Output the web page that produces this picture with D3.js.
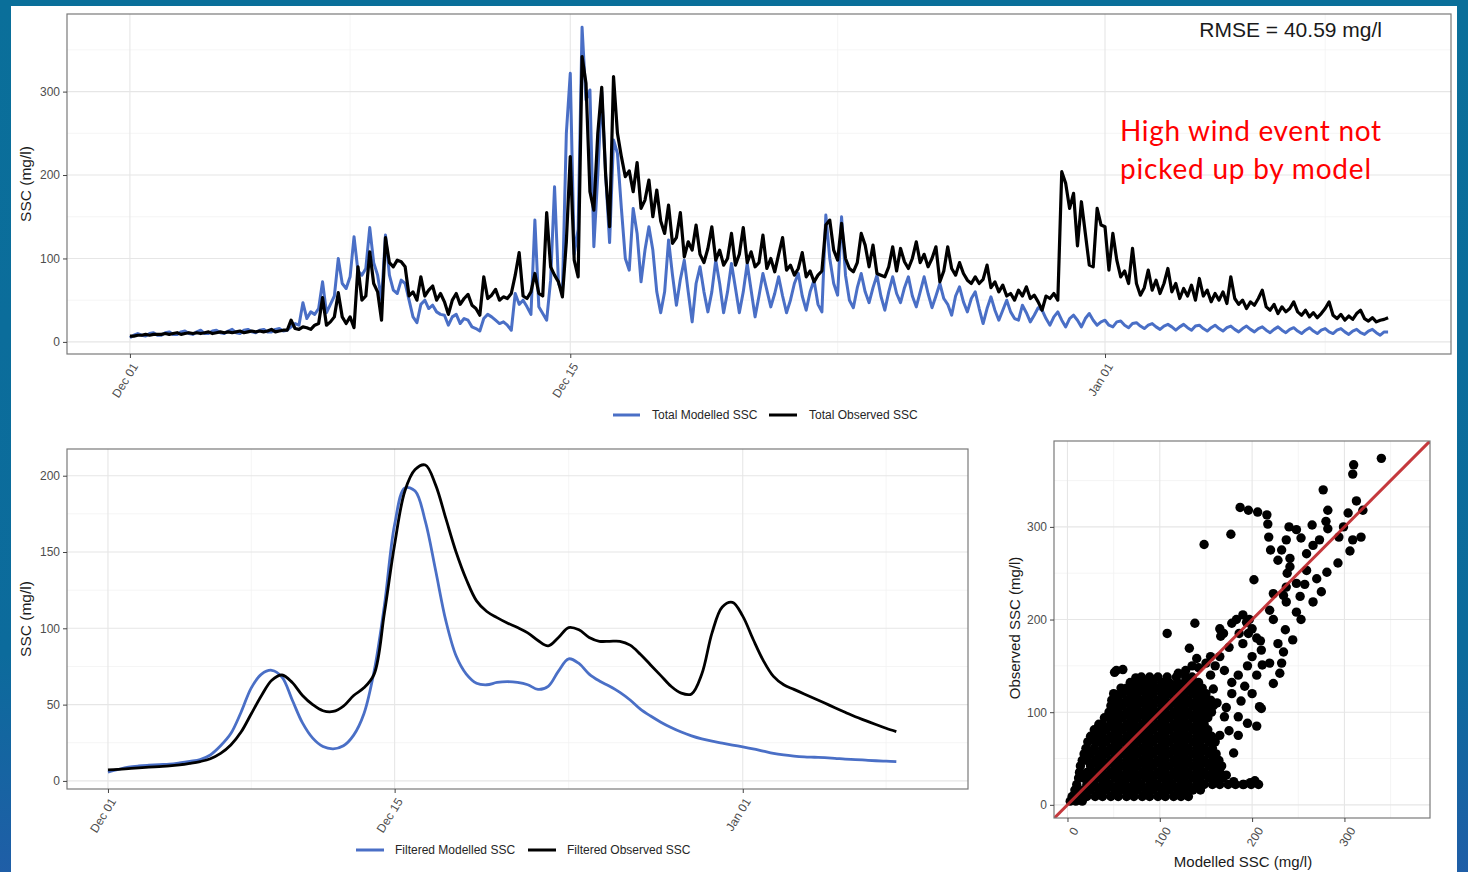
<!DOCTYPE html>
<html>
<head>
<meta charset="utf-8">
<script src="https://cdn.jsdelivr.net/npm/d3@7"></script>
<style>
  html, body { margin: 0; padding: 0; background: #0b6e99; }
  svg { display: block; }
</style>
</head>
<body>
<svg id="chart" width="1468" height="872"></svg>
<script>
// ---------------- data ----------------
// total SSC, one value every 3 hours from Dec 01 00:00 (one row per day)
const seriesStart = new Date(2019, 11, 1);
const totalStepHours = 3;

const totalModelled = [
  5, 8, 10, 8, 7, 10, 11, 8,
  8, 11, 12, 9, 9, 12, 13, 10,
  9, 12, 14, 10, 10, 13, 14, 11,
  10, 13, 15, 11, 10, 14, 15, 12,
  11, 14, 15, 12, 12, 15, 16, 13,
  14, 18, 22, 20, 47, 28, 36, 33,
  40, 72, 35, 45, 55, 100, 70, 64,
  78, 126, 85, 80, 88, 137, 95, 80,
  50, 128, 80, 62, 58, 74, 70, 50,
  30, 23, 45, 50, 40, 44, 36, 33,
  32, 20, 30, 33, 22, 28, 26, 18,
  16, 13, 28, 33, 30, 26, 22, 24,
  20, 14, 58, 45, 50, 42, 33, 146,
  42, 34, 26, 74, 186, 70, 60, 250,
  322, 105, 135, 377, 290, 302, 114, 200,
  300, 200, 119, 242, 226, 160, 100, 86,
  160, 130, 72, 110, 138, 110, 60, 35,
  60, 122, 80, 44, 75, 98, 60, 24,
  70, 90, 60, 36, 60, 98, 70, 35,
  60, 94, 65, 35, 60, 94, 62, 30,
  55, 82, 62, 42, 58, 78, 55, 35,
  50, 70, 82, 55, 38, 60, 74, 45,
  36, 152, 100, 70, 56, 150, 80, 50,
  41, 65, 82, 60, 47, 65, 80, 55,
  38, 60, 78, 58, 47, 65, 78, 55,
  42, 60, 78, 58, 41, 55, 70, 52,
  45, 32, 55, 66, 48, 36, 52, 60,
  40, 22, 40, 54, 38, 26, 38, 50,
  36, 28, 26, 44, 35, 24, 32, 41,
  38, 28, 20, 30, 36, 26, 18, 28,
  32, 26, 18, 28, 34, 26, 20, 24,
  26, 20, 18, 24, 25, 20, 17, 22,
  23, 19, 16, 20, 22, 18, 15, 19,
  21, 18, 14, 18, 21, 17, 14, 19,
  20, 16, 13, 17, 20, 16, 13, 17,
  19, 15, 12, 16, 19, 15, 12, 16,
  18, 14, 11, 15, 18, 14, 11, 15,
  17, 13, 10, 14, 17, 13, 10, 14,
  16, 12, 10, 14, 16, 12, 9, 13,
  15, 11, 9, 13, 15, 11, 8, 12,
  12
];

const totalObserved = [
  7, 7, 8, 8, 9, 8, 9, 9,
  9, 10, 9, 10, 11, 9, 10, 11,
  10, 11, 10, 11, 12, 10, 11, 12,
  11, 12, 11, 12, 13, 11, 12, 13,
  12, 13, 12, 13, 15, 12, 13, 14,
  14, 26, 16, 15, 18, 17, 15, 20,
  22, 53, 20, 24, 30, 59, 30, 22,
  30, 17, 90, 50, 55, 108, 70, 60,
  26, 125, 95, 90, 98, 96, 90, 55,
  60, 50, 78, 55, 62, 67, 50, 58,
  48, 33, 50, 58, 45, 52, 57, 44,
  40, 32, 78, 52, 56, 63, 50, 54,
  52, 58, 80, 107, 55, 52, 60, 82,
  58, 55, 155, 90, 80, 72, 54, 120,
  222, 98, 78, 342, 310, 180, 158, 250,
  305, 200, 138, 318, 250, 222, 198, 205,
  180, 215, 160, 170, 194, 150, 182, 145,
  130, 164, 118, 125, 155, 102, 120, 110,
  140, 105, 95, 112, 138, 98, 110, 92,
  100, 130, 92, 105, 137, 95, 108, 90,
  95, 128, 88, 100, 84, 105, 125, 86,
  92, 80, 88, 107, 78, 85, 72, 80,
  85, 140, 146, 110, 98, 142, 100, 88,
  84, 95, 130, 116, 90, 116, 82, 80,
  78, 90, 114, 85, 112, 96, 88, 100,
  120, 95, 105, 90, 100, 114, 72, 85,
  114, 88, 80, 95, 82, 74, 70, 78,
  70, 75, 92, 65, 72, 60, 68, 55,
  58, 50, 62, 55, 66, 52, 56, 48,
  38, 55, 52, 58, 50, 204, 190, 160,
  178, 115, 168, 130, 92, 90, 160, 140,
  138, 86, 130, 98, 78, 85, 70, 112,
  70, 56, 65, 86, 62, 74, 58, 70,
  88, 60, 70, 52, 64, 55, 68, 50,
  76, 55, 62, 48, 58, 50, 60, 46,
  78, 52, 45, 50, 40, 48, 44, 52,
  62, 42, 38, 45, 34, 42, 36, 40,
  48, 36, 32, 38, 30, 35, 29, 34,
  40, 48, 32, 28, 33, 26, 31, 27,
  34, 38, 28, 25, 29, 24, 26, 27,
  29
];

// filtered SSC, one value every 12 hours from Dec 01 00:00
const filteredStepHours = 12;
const filteredModelled = [
  5.7, 7.5, 9, 9.8, 10.3, 10.7, 11, 11.8, 12.8, 14,
  17, 23, 31, 45, 61, 70, 72.5, 68, 53, 38,
  28, 22.5, 21, 23, 30, 44, 72, 115, 168, 192,
  190, 170, 138, 105, 82, 70, 64, 63, 64.5, 65,
  64.5, 63, 60, 62, 72, 80, 77, 70, 65.5, 62,
  58, 53, 47, 42.5, 38.5, 35, 32, 29.5, 27.5, 26,
  24.8, 23.5, 22.3, 21, 19.5, 18, 17, 16.3, 15.8, 15.5,
  15.2, 14.8, 14.3, 14, 13.6, 13.2, 12.9, 12.6
];
const filteredObserved = [
  7.2, 7.6, 8.1, 8.6, 9, 9.4, 9.8, 10.5, 11.5, 12.7,
  14.5, 18, 23.5, 32, 44, 56, 66, 69.4, 64.5, 56,
  50, 46, 45.5, 49, 56, 61, 70, 110, 155, 190,
  204, 207, 194, 172, 150, 132, 118, 111, 107, 103.5,
  100.5, 97, 92, 88.5, 94, 100.5, 99, 94, 91.5, 91.5,
  91.5, 89, 83, 76, 69, 62, 57.5, 57, 70, 97,
  114, 117, 108, 93, 79, 68.5, 63, 60, 57, 54,
  51, 48, 45, 42, 39.5, 37, 34.5, 32.3
];

// scatter: dense part as rows [observed, [modelled, ...]]
const scatterRows = [
  [4,   [3, 9, 16]],
  [9,   [5, 13, 21, 30, 38, 47, 55, 64, 72, 81, 89, 98, 106, 115, 123, 131]],
  [16,  [8, 17, 25, 34, 42, 51, 59, 68, 76, 85, 93, 102, 110, 119, 127, 136, 144]],
  [22,  [10, 21, 29, 38, 46, 55, 63, 72, 80, 89, 97, 106, 114, 123, 131, 140, 148, 157, 165, 174, 182, 191, 199, 207]],
  [29,  [12, 17, 25, 34, 42, 51, 59, 68, 76, 85, 93, 102, 110, 119, 127, 136, 144, 153, 161, 168]],
  [35,  [13, 21, 30, 38, 47, 55, 64, 72, 81, 89, 98, 106, 115, 123, 131, 140, 148, 157, 165]],
  [42,  [14, 25, 34, 42, 51, 59, 68, 76, 85, 93, 102, 110, 119, 127, 136, 144, 153, 161, 167]],
  [48,  [16, 21, 30, 38, 47, 55, 64, 72, 81, 89, 98, 106, 115, 123, 131, 140, 148, 157, 164]],
  [55,  [18, 25, 34, 42, 51, 59, 68, 76, 85, 93, 102, 110, 119, 127, 136, 144, 153, 161]],
  [61,  [20, 29, 38, 47, 55, 64, 72, 81, 89, 98, 106, 115, 123, 131, 140, 148, 157]],
  [68,  [22, 30, 34, 42, 51, 59, 68, 76, 85, 93, 102, 110, 119, 127, 136, 144, 153, 160]],
  [74,  [25, 30, 38, 47, 55, 64, 72, 81, 89, 98, 106, 115, 123, 131, 140, 148, 156]],
  [81,  [29, 34, 42, 51, 59, 68, 76, 85, 93, 102, 110, 119, 127, 136, 144, 152]],
  [87,  [34, 38, 47, 55, 64, 72, 81, 89, 98, 106, 115, 123, 131, 140, 148]],
  [94,  [40, 45, 51, 59, 68, 76, 85, 93, 102, 110, 119, 127, 136, 144, 152]],
  [100, [45, 47, 55, 64, 72, 81, 89, 98, 106, 115, 123, 131, 140, 148, 156]],
  [107, [47, 51, 59, 68, 76, 85, 93, 102, 110, 119, 127, 136, 144, 152, 158]],
  [113, [48, 55, 64, 72, 81, 89, 98, 106, 115, 123, 131, 140, 148, 155]],
  [120, [50, 59, 68, 76, 85, 93, 102, 110, 119, 127, 136, 144, 150]],
  [126, [58, 64, 72, 81, 89, 98, 106, 115, 123, 131, 140, 146]],
  [132, [68, 76, 85, 93, 102, 110, 119, 127, 136, 142]],
  [138, [80, 89, 98, 108, 118, 128, 135]]
];
// scatter: loose points [modelled, observed]
const scatterLoose = [
  [340, 374], [310, 367], [309, 357], [277, 340], [313, 328], [320, 318], [282, 318],
  [187, 321], [196, 318], [206, 316], [216, 313], [217, 303], [177, 292], [148, 281],
  [218, 289], [240, 300], [248, 297], [253, 288], [265, 302], [280, 306], [282, 298],
  [304, 315], [299, 300], [294, 289], [309, 286], [318, 289], [306, 274], [273, 286],
  [266, 280], [259, 271], [237, 286], [232, 275], [220, 275], [228, 264], [241, 266],
  [293, 261], [281, 251], [270, 244], [259, 253], [241, 257], [238, 250], [202, 243],
  [248, 239], [257, 238], [237, 235], [275, 230], [223, 228], [234, 226], [252, 225],
  [237, 219], [266, 219], [219, 210], [248, 208], [190, 205], [183, 200], [178, 196],
  [223, 200], [253, 200], [138, 196], [165, 190], [108, 185], [132, 169],
  [209, 177], [210, 167], [211, 151], [197, 200], [169, 185], [166, 182], [194, 197],
  [196, 185], [190, 174], [223, 131], [230, 142], [232, 153], [234, 165], [236, 189],
  [244, 178], [228, 174], [219, 153], [200, 190], [205, 180], [186, 185], [200, 160],
  [195, 150], [205, 140], [192, 128], [185, 140], [200, 120], [188, 112], [178, 120],
  [172, 105], [185, 95], [195, 88], [205, 85], [208, 106], [210, 104], [178, 132],
  [170, 145], [160, 150], [165, 160], [175, 170], [155, 140], [158, 125], [162, 110],
  [170, 95], [175, 80], [185, 75], [165, 75], [180, 56], [172, 32], [180, 25],
  [190, 22], [198, 24], [203, 26], [128, 145], [135, 150], [142, 148], [140, 158],
  [150, 153], [155, 160], [52, 119], [49, 98], [31, 81], [51, 143], [53, 145],
  [60, 146], [74, 137], [120, 142]
];

// ticks
const dateMajor = [new Date(2019, 11, 1), new Date(2019, 11, 15), new Date(2020, 0, 1)];
const dateMinor = [new Date(2019, 11, 8), new Date(2019, 11, 23, 12), new Date(2020, 0, 8)];
const totalTicks = [0, 100, 200, 300];
const totalMinor = [50, 150, 250, 350];
const filteredTicks = [0, 50, 100, 150, 200];
const filteredMinor = [25, 75, 125, 175];
const scatterTicks = [0, 100, 200, 300];
const scatterMinor = [50, 150, 250, 350];

const rmseLabel = "RMSE = 40.59 mg/l";
const noteLines = ["High wind event not", "picked up by model"];

// ---------------- drawing ----------------
const FONT = "'Liberation Sans', Arial, Helvetica, sans-serif";
const BLUE = "#4a6fc6";
const TICK_GREY = "#4d4d4d";

const svg = d3.select("#chart");

// slide frame
const grad = svg.append("defs").append("linearGradient")
  .attr("id", "frameGrad").attr("x1", 0).attr("y1", 0).attr("x2", 0).attr("y2", 1);
grad.append("stop").attr("offset", "0%").attr("stop-color", "#0a6f9a");
grad.append("stop").attr("offset", "75%").attr("stop-color", "#0c6b9c");
grad.append("stop").attr("offset", "100%").attr("stop-color", "#1f5ea7");
svg.append("rect").attr("width", 1468).attr("height", 872).attr("fill", "url(#frameGrad)");
svg.append("rect").attr("x", 11).attr("y", 6).attr("width", 1446).attr("height", 866).attr("fill", "#fff");

const timeOf = step => (d, i) => new Date(seriesStart.getTime() + i * step * 3600e3);

// scales
const xDomain = [new Date(2019, 10, 29), new Date(2020, 0, 12)];
const topX = d3.scaleTime().domain(xDomain).range([67, 1451]);
const topY = d3.scaleLinear().domain([-14.5, 393]).range([354, 14]);
const filtX = d3.scaleTime().domain(xDomain).range([67, 968]);
const filtY = d3.scaleLinear().domain([-5.3, 217.5]).range([789, 449]);
const scatX = d3.scaleLinear().domain([-14.6, 392.7]).range([1054, 1430]);
const scatY = d3.scaleLinear().domain([-14.2, 392.7]).range([818, 441]);

function grid(x, y, xMaj, xMin, yMaj, yMin) {
  const [x0, x1] = x.range(), [y0, y1] = y.range();
  const g = svg.append("g");
  const v = (vals, col, w) => g.append("g").selectAll("line").data(vals).join("line")
    .attr("x1", d => x(d)).attr("x2", d => x(d)).attr("y1", y0).attr("y2", y1)
    .attr("stroke", col).attr("stroke-width", w);
  const h = (vals, col, w) => g.append("g").selectAll("line").data(vals).join("line")
    .attr("x1", x0).attr("x2", x1).attr("y1", d => y(d)).attr("y2", d => y(d))
    .attr("stroke", col).attr("stroke-width", w);
  v(xMin, "#f3f3f3", 0.8);
  h(yMin, "#f3f3f3", 0.8);
  v(xMaj, "#e6e6e6", 1.1);
  h(yMaj, "#e6e6e6", 1.1);
}

function border(x, y) {
  const [x0, x1] = x.range(), [y0, y1] = y.range();
  svg.append("rect").attr("x", x0).attr("y", y1).attr("width", x1 - x0).attr("height", y0 - y1)
    .attr("fill", "none").attr("stroke", "#7a7a7a").attr("stroke-width", 1.2);
}

function clipFor(id, x, y) {
  const [x0, x1] = x.range(), [y0, y1] = y.range();
  svg.append("clipPath").attr("id", id).append("rect")
    .attr("x", x0).attr("y", y1).attr("width", x1 - x0).attr("height", y0 - y1);
  return "url(#" + id + ")";
}

function leftAxis(y, ticks, xPos) {
  svg.append("g").attr("transform", "translate(" + xPos + ",0)")
    .call(d3.axisLeft(y).tickValues(ticks).tickSize(4).tickPadding(3))
    .attr("font-size", 12).attr("font-family", FONT)
    .call(g => g.select(".domain").remove())
    .call(g => g.selectAll("line").attr("stroke", "#444"))
    .call(g => g.selectAll("text").attr("fill", TICK_GREY));
}

function bottomAxis(x, ticks, yPos, fmt, shift) {
  svg.append("g").attr("transform", "translate(0," + yPos + ")")
    .call(d3.axisBottom(x).tickValues(ticks).tickFormat(fmt).tickSize(4))
    .attr("font-size", 12).attr("font-family", FONT)
    .call(g => g.select(".domain").remove())
    .call(g => g.selectAll("line").attr("stroke", "#444"))
    .call(g => g.selectAll("text")
      .attr("x", 0).attr("y", 0).attr("dy", "0.7em")
      .attr("text-anchor", "end").attr("fill", TICK_GREY)
      .attr("transform", "translate(" + shift + ",8) rotate(-58)"));
}

function yTitle(text, x, y, size) {
  svg.append("text").attr("transform", "translate(" + x + "," + y + ") rotate(-90)")
    .attr("text-anchor", "middle").attr("font-family", FONT).attr("font-size", size)
    .attr("fill", "#1a1a1a").text(text);
}

function legend(items, y) {
  const g = svg.append("g").attr("font-family", FONT).attr("font-size", 12);
  items.forEach(it => {
    g.append("line").attr("x1", it.x0).attr("x2", it.x1).attr("y1", y).attr("y2", y)
      .attr("stroke", it.color).attr("stroke-width", 3);
    g.append("text").attr("x", it.tx).attr("y", y + 4.3).attr("fill", "#262626").text(it.label);
  });
}

const dateFmt = d3.timeFormat("%b %d");

// ---- top panel: total SSC ----
grid(topX, topY, dateMajor, dateMinor, totalTicks, totalMinor);
const topClip = clipFor("clipTop", topX, topY);
const topLine = d3.line().x(d => topX(d.t)).y(d => topY(d.v));
const totalMod = totalModelled.map((v, i) => ({ t: timeOf(totalStepHours)(v, i), v }));
const totalObs = totalObserved.map((v, i) => ({ t: timeOf(totalStepHours)(v, i), v }));
svg.append("path").datum(totalMod).attr("clip-path", topClip).attr("d", topLine)
  .attr("fill", "none").attr("stroke", BLUE).attr("stroke-width", 3).attr("stroke-linejoin", "round");
svg.append("path").datum(totalObs).attr("clip-path", topClip).attr("d", topLine)
  .attr("fill", "none").attr("stroke", "#000").attr("stroke-width", 3.2).attr("stroke-linejoin", "round");
border(topX, topY);
leftAxis(topY, totalTicks, 67);
bottomAxis(topX, dateMajor, 354, dateFmt, 1);
yTitle("SSC (mg/l)", 31, 184, 15.5);

svg.append("text").attr("x", 1382).attr("y", 37).attr("text-anchor", "end")
  .attr("font-family", FONT).attr("font-size", 21).attr("fill", "#1a1a1a").text(rmseLabel);

svg.append("g").selectAll("text").data(noteLines).join("text")
  .attr("x", 1120).attr("y", (d, i) => 141 + i * 38)
  .attr("font-family", "Lato, 'Open Sans', sans-serif").attr("font-size", 28)
  .attr("fill", "#ff0000")
  .attr("textLength", (d, i) => i === 0 ? 261 : 251).attr("lengthAdjust", "spacing")
  .text(d => d);

legend([
  { x0: 613, x1: 640, tx: 652, color: BLUE, label: "Total Modelled SSC" },
  { x0: 769, x1: 797, tx: 809, color: "#000", label: "Total Observed SSC" }
], 415);

// ---- bottom-left panel: filtered SSC ----
grid(filtX, filtY, dateMajor, dateMinor, filteredTicks, filteredMinor);
const filtClip = clipFor("clipFilt", filtX, filtY);
const filtLine = d3.line().curve(d3.curveCatmullRom.alpha(0.5)).x(d => filtX(d.t)).y(d => filtY(d.v));
const filtMod = filteredModelled.map((v, i) => ({ t: timeOf(filteredStepHours)(v, i), v }));
const filtObs = filteredObserved.map((v, i) => ({ t: timeOf(filteredStepHours)(v, i), v }));
svg.append("path").datum(filtMod).attr("clip-path", filtClip).attr("d", filtLine)
  .attr("fill", "none").attr("stroke", BLUE).attr("stroke-width", 2.8);
svg.append("path").datum(filtObs).attr("clip-path", filtClip).attr("d", filtLine)
  .attr("fill", "none").attr("stroke", "#000").attr("stroke-width", 2.8);
border(filtX, filtY);
leftAxis(filtY, filteredTicks, 67);
bottomAxis(filtX, dateMajor, 789, dateFmt, 1);
yTitle("SSC (mg/l)", 31, 619, 15.5);

legend([
  { x0: 356, x1: 384, tx: 395, color: BLUE, label: "Filtered Modelled SSC" },
  { x0: 528, x1: 556, tx: 567, color: "#000", label: "Filtered Observed SSC" }
], 850);

// ---- bottom-right panel: scatter ----
grid(scatX, scatY, scatterTicks, scatterMinor, scatterTicks, scatterMinor);
const scatClip = clipFor("clipScat", scatX, scatY);
const scatterPoints = scatterRows.flatMap(([obs, mods]) => mods.map(m => [m, obs])).concat(scatterLoose);
svg.append("g").attr("clip-path", scatClip).selectAll("circle").data(scatterPoints).join("circle")
  .attr("cx", d => scatX(d[0])).attr("cy", d => scatY(d[1])).attr("r", 4.7).attr("fill", "#000");
const lo = scatX.domain()[0], hi = scatX.domain()[1];
svg.append("path").datum([[lo, lo], [hi, hi]]).attr("clip-path", scatClip)
  .attr("d", d3.line().x(d => scatX(d[0])).y(d => scatY(d[1])))
  .attr("stroke", "#c0282c").attr("stroke-width", 3).attr("stroke-opacity", 0.92).attr("fill", "none");
border(scatX, scatY);
leftAxis(scatY, scatterTicks, 1054);
bottomAxis(scatX, scatterTicks, 818, d3.format("d"), 4);
yTitle("Observed SSC (mg/l)", 1020, 628, 15);
svg.append("text").attr("x", 1243).attr("y", 867).attr("text-anchor", "middle")
  .attr("font-family", FONT).attr("font-size", 15).attr("fill", "#1a1a1a").text("Modelled SSC (mg/l)");
</script>
</body>
</html>
